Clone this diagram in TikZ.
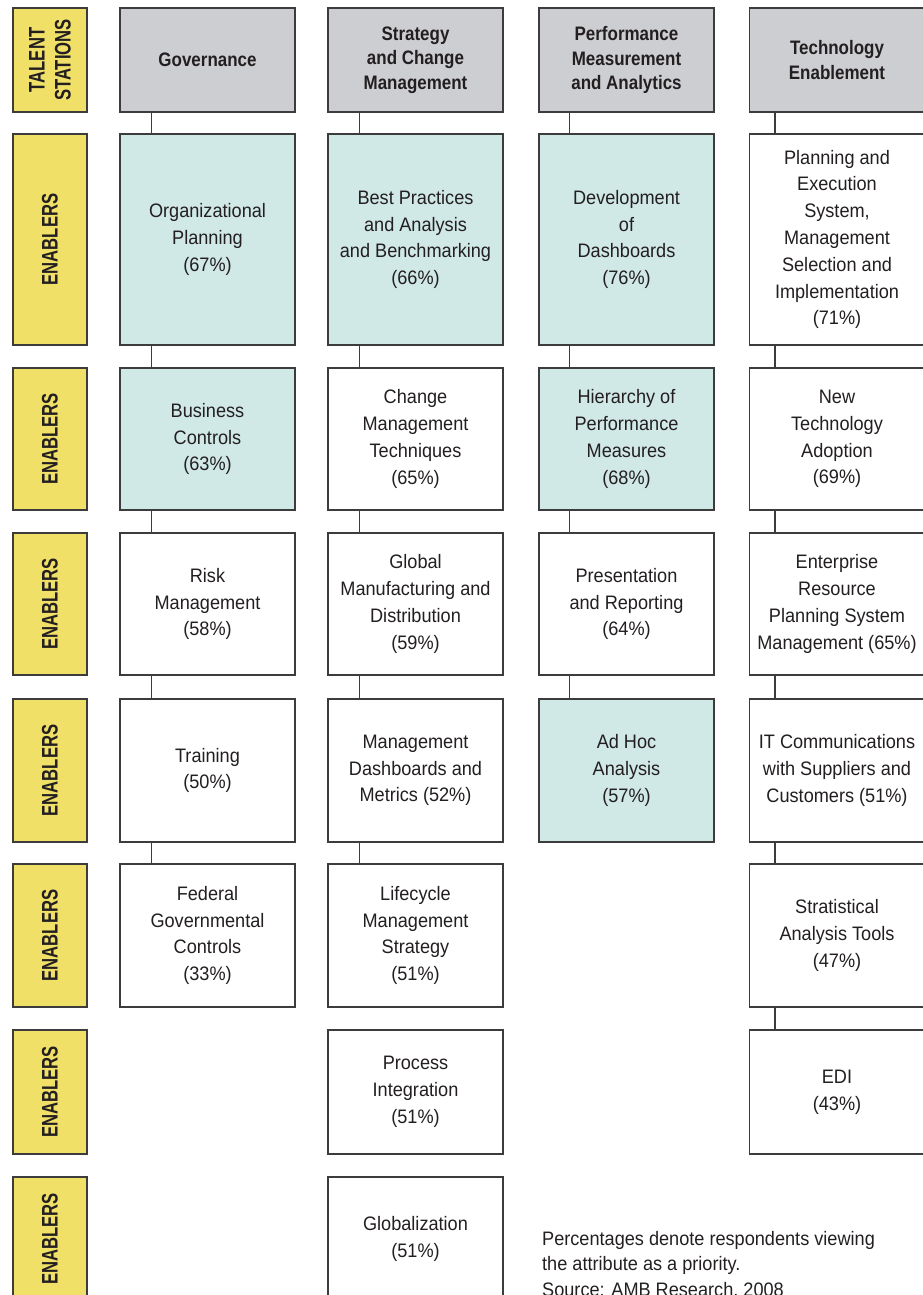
\documentclass[tikz,border=0pt]{standalone}
\usepackage{fontspec}
\setmainfont{Liberation Sans}[FakeStretch=0.93]
\newfontfamily\headfont{Liberation Sans}[FakeStretch=0.87]
\newfontfamily\tagfont{Liberation Sans}[FakeStretch=0.74]

\definecolor{tagyel}{HTML}{F0E068}
\definecolor{cellhi}{HTML}{D0E8E6}
\definecolor{cellhead}{HTML}{CDCED1}
\definecolor{edgegray}{HTML}{3C3C3C}
\definecolor{inkgray}{HTML}{231F20}

\begin{document}
\begin{tikzpicture}[x=1pt,y=-1pt,
  box/.style={draw=edgegray, line width=1.3pt, fill=white, text=inkgray,
    align=center, inner sep=0pt, minimum width=175pt,
    font=\fontsize{19.5}{26.8}\selectfont},
  hi/.style={box, fill=cellhi},
  head/.style={box, fill=cellhead, minimum height=104pt,
    font=\headfont\bfseries\fontsize{19.5}{24.5}\selectfont},
  tag/.style={draw=edgegray, line width=1.3pt, fill=tagyel, text=inkgray,
    rotate=90, minimum height=74pt, inner sep=0pt, align=center,
    font=\tagfont\bfseries\fontsize{22.5}{26}\selectfont},
  link/.style={draw=edgegray, line width=1.3pt},
  note/.style={text=inkgray, align=left, inner sep=0pt,
    font=\fontsize{19.5}{25.5}\selectfont}]

\useasboundingbox (0,0) rectangle (923,1295);

% row heights: H 104, R1 211, R2 142, R3 142, R4 143, R5 143, R6 124, R7 124
% side tags
\node[tag, minimum width=104pt] (tg0) at (50,60) {TALENT\\STATIONS};
\node[tag, minimum width=211pt] (tg1) at (50,239.5) {ENABLERS};
\node[tag, minimum width=142pt] (tg2) at (50,439) {ENABLERS};
\node[tag, minimum width=142pt] (tg3) at (50,604) {ENABLERS};
\node[tag, minimum width=143pt] (tg4) at (50,770.5) {ENABLERS};
\node[tag, minimum width=143pt] (tg5) at (50,935.5) {ENABLERS};
\node[tag, minimum width=124pt] (tg6) at (50,1092) {ENABLERS};
\node[tag, minimum width=124pt] (tg7) at (50,1239) {ENABLERS};

% Governance
\node[head] (g0) at (207.5,60) {Governance};
\node[hi, minimum height=211pt] (g1) at (207.5,239.5) {Organizational\\Planning\\(67\%)};
\node[hi, minimum height=142pt] (g2) at (207.5,439) {Business\\Controls\\(63\%)};
\node[box, minimum height=142pt] (g3) at (207.5,604) {Risk\\Management\\(58\%)};
\node[box, minimum height=143pt] (g4) at (207.5,770.5) {Training\\(50\%)};
\node[box, minimum height=143pt] (g5) at (207.5,935.5) {Federal\\Governmental\\Controls\\(33\%)};

% Strategy and Change Management
\node[head] (s0) at (415.5,60) {Strategy\\and Change\\Management};
\node[hi, minimum height=211pt] (s1) at (415.5,239.5) {Best Practices\\and Analysis\\and Benchmarking\\(66\%)};
\node[box, minimum height=142pt] (s2) at (415.5,439) {Change\\Management\\Techniques\\(65\%)};
\node[box, minimum height=142pt] (s3) at (415.5,604) {Global\\Manufacturing and\\Distribution\\(59\%)};
\node[box, minimum height=143pt] (s4) at (415.5,770.5) {Management\\Dashboards and\\Metrics (52\%)};
\node[box, minimum height=143pt] (s5) at (415.5,935.5) {Lifecycle\\Management\\Strategy\\(51\%)};
\node[box, minimum height=124pt] (s6) at (415.5,1092) {Process\\Integration\\(51\%)};
\node[box, minimum height=124pt] (s7) at (415.5,1239) {Globalization\\(51\%)};

% Performance Measurement and Analytics
\node[head] (p0) at (626.5,60) {Performance\\Measurement\\and Analytics};
\node[hi, minimum height=211pt] (p1) at (626.5,239.5) {Development\\of\\Dashboards\\(76\%)};
\node[hi, minimum height=142pt] (p2) at (626.5,439) {Hierarchy of\\Performance\\Measures\\(68\%)};
\node[box, minimum height=142pt] (p3) at (626.5,604) {Presentation\\and Reporting\\(64\%)};
\node[hi, minimum height=143pt] (p4) at (626.5,770.5) {Ad Hoc\\Analysis\\(57\%)};

% Technology Enablement
\node[head] (t0) at (837,60) {Technology\\Enablement};
\node[box, minimum height=211pt] (t1) at (837,239.5) {Planning and\\Execution\\System,\\Management\\Selection and\\Implementation\\(71\%)};
\node[box, minimum height=142pt] (t2) at (837,439) {New\\Technology\\Adoption\\(69\%)};
\node[box, minimum height=142pt] (t3) at (837,604) {Enterprise\\Resource\\Planning System\\Management (65\%)};
\node[box, minimum height=143pt] (t4) at (837,770.5) {IT Communications\\with Suppliers and\\Customers (51\%)};
\node[box, minimum height=143pt] (t5) at (837,935.5) {Stratistical\\Analysis Tools\\(47\%)};
\node[box, minimum height=124pt] (t6) at (837,1092) {EDI\\(43\%)};

% vertical links
\foreach \a/\b in {g0/g1,g1/g2,g2/g3,g3/g4,g4/g5}
  \draw[link] ([xshift=32pt]\a.south west) -- ([xshift=32pt]\b.north west);
\foreach \a/\b in {s0/s1,s1/s2,s2/s3,s3/s4,s4/s5}
  \draw[link] ([xshift=32pt]\a.south west) -- ([xshift=32pt]\b.north west);
\foreach \a/\b in {p0/p1,p1/p2,p2/p3,p3/p4}
  \draw[link] ([xshift=31pt]\a.south west) -- ([xshift=31pt]\b.north west);
\foreach \a/\b in {t0/t1,t1/t2,t2/t3,t3/t4,t4/t5,t5/t6}
  \draw[link] ([xshift=26pt]\a.south west) -- ([xshift=26pt]\b.north west);

% footnote (base anchor sits on the last line)
\node[note, anchor=base west] (n1) at (542,1296) {Percentages denote respondents viewing\\the attribute as a priority.\\Source: AMB Research, 2008};
\end{tikzpicture}
\end{document}
